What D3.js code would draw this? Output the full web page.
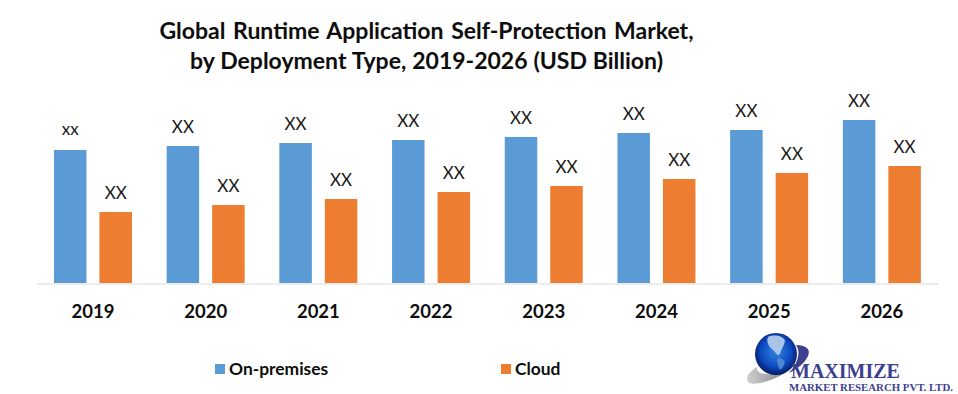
<!DOCTYPE html>
<html>
<head>
<meta charset="utf-8">
<script src="https://cdn.jsdelivr.net/npm/d3@7"></script>
<style>
  html, body { margin: 0; padding: 0; background: #fff; }
  svg { display: block; }
  text { font-family: Lato, "Open Sans", sans-serif; }
</style>
</head>
<body>
<div id="chart"></div>
<script>
const years = ['2019', '2020', '2021', '2022', '2023', '2024', '2025', '2026'];
const seriesNames = ['On-premises', 'Cloud'];
// no numbers on the chart, these are read from the bar heights
const onPremises = [13.3, 13.7, 14.0, 14.3, 14.6, 15.0, 15.3, 16.3];
const cloud = [7.1, 7.8, 8.4, 9.1, 9.7, 10.4, 11.0, 11.7];
const onPremisesLabels = ['xx', 'XX', 'XX', 'XX', 'XX', 'XX', 'XX', 'XX'];
const cloudLabels = ['XX', 'XX', 'XX', 'XX', 'XX', 'XX', 'XX', 'XX'];
const titleLines = ['Global Runtime Application Self-Protection Market,', 'by Deployment Type, 2019-2026 (USD Billion)'];
const colors = ['#5b9bd5', '#ed7d31'];

const width = 958;
const height = 394;

const svg = d3.select('#chart').append('svg')
  .attr('width', width)
  .attr('height', height);

// title
svg.selectAll('.title')
  .data(titleLines)
  .enter()
  .append('text')
  .attr('class', 'title')
  .attr('x', 426.5)
  .attr('y', (d, i) => 39 + i * 30)
  .attr('text-anchor', 'middle')
  .attr('font-size', 23)
  .attr('font-weight', 700)
  .attr('word-spacing', (d, i) => i === 0 ? 2 : 0.3)
  .attr('fill', '#0d0d0d')
  .text(d => d);

const x = d3.scaleBand()
  .domain(years)
  .range([36.6, 938.2])
  .paddingInner(0.308)
  .paddingOuter(0.154);

const xSeries = d3.scaleBand()
  .domain(seriesNames)
  .range([0, x.bandwidth()])
  .paddingInner(0.286);

const y = d3.scaleLinear()
  .domain([0, 20])
  .range([283, 83]);

const series = [
  { name: seriesNames[0], values: onPremises, labels: onPremisesLabels },
  { name: seriesNames[1], values: cloud, labels: cloudLabels }
];

// bars and their labels
series.forEach((s, k) => {
  const g = svg.append('g');

  g.selectAll('rect')
    .data(s.values)
    .enter()
    .append('rect')
    .attr('x', (d, i) => x(years[i]) + xSeries(s.name))
    .attr('y', d => y(d))
    .attr('width', xSeries.bandwidth())
    .attr('height', d => y(0) - y(d))
    .attr('fill', colors[k]);

  g.selectAll('text')
    .data(s.values)
    .enter()
    .append('text')
    .attr('x', (d, i) => x(years[i]) + xSeries(s.name) + xSeries.bandwidth() / 2)
    .attr('y', (d, i) => y(d) - (s.labels[i] === 'xx' ? 15 : 13))
    .attr('text-anchor', 'middle')
    .attr('font-size', 17)
    .attr('fill', '#1a1a1a')
    .text((d, i) => s.labels[i]);
});

// axis
const xAxis = svg.append('g')
  .attr('transform', `translate(0, ${y(0) + 0.5})`)
  .call(d3.axisBottom(x).tickSize(0).tickPadding(21));

xAxis.select('.domain').attr('stroke', '#d9d9d9').attr('stroke-width', 1);
xAxis.selectAll('text')
  .attr('font-family', 'Lato, sans-serif')
  .attr('font-size', 18.5)
  .attr('font-weight', 700)
  .attr('fill', '#0d0d0d');

// legend
const legendX = [215, 501];
const legend = svg.selectAll('.legend')
  .data(seriesNames)
  .enter()
  .append('g')
  .attr('class', 'legend')
  .attr('transform', (d, i) => `translate(${legendX[i]}, 364)`);

legend.append('rect')
  .attr('width', 10)
  .attr('height', 10)
  .attr('fill', (d, i) => colors[i]);

legend.append('text')
  .attr('x', 14)
  .attr('y', 11)
  .attr('font-size', 17.4)
  .attr('font-weight', 700)
  .attr('fill', '#0d0d0d')
  .text(d => d);

// logo
const defs = svg.append('defs');
const globeGrad = defs.append('radialGradient')
  .attr('id', 'globe')
  .attr('cx', '0.5')
  .attr('cy', '0.45')
  .attr('r', '0.6');
globeGrad.append('stop').attr('offset', '0%').attr('stop-color', '#2f86e0');
globeGrad.append('stop').attr('offset', '60%').attr('stop-color', '#0d49c0');
globeGrad.append('stop').attr('offset', '100%').attr('stop-color', '#04104a');

const swooshGrad = defs.append('linearGradient')
  .attr('id', 'swoosh')
  .attr('x1', '0').attr('x2', '1');
swooshGrad.append('stop').attr('offset', '0%').attr('stop-color', '#d0d0d0');
swooshGrad.append('stop').attr('offset', '100%').attr('stop-color', '#7a7a7a');

const logo = svg.append('g');

logo.append('path')
  .attr('d', 'M748 382 C745 377 750 371 757 367 C756 372 762 375 772 374 C780 373 787 370 792 366 C786 374 772 381 760 383 C754 384 750 384 748 382 Z')
  .attr('fill', 'url(#swoosh)');
logo.append('path')
  .attr('d', 'M796 345 C806 345 811 349 808 356 C805 363 797 369 789 373 C796 366 802 353 796 345 Z')
  .attr('fill', '#3d3f8f');

logo.append('circle')
  .attr('cx', 776)
  .attr('cy', 354)
  .attr('r', 21)
  .attr('fill', 'url(#globe)');
logo.append('path')
  .attr('d', 'M768 337 C774 334 784 336 785 341 C784 346 781 349 780 354 C777 357 776 352 773 350 C769 347 766 342 768 337 Z')
  .attr('fill', '#a9c6e8');
logo.append('path')
  .attr('d', 'M778 358 C783 358 786 361 784 365 C782 369 780 371 779 368 C778 365 776 361 778 358 Z')
  .attr('fill', '#4f86d0');

logo.append('text')
  .attr('x', 791)
  .attr('y', 378)
  .style('font-family', '"Liberation Serif", serif')
  .attr('font-size', 20)
  .attr('font-weight', 700)
  .attr('fill', '#3d3f8f')
  .text('MAXIMIZE');
logo.append('text')
  .attr('x', 789)
  .attr('y', 391)
  .style('font-family', '"Liberation Serif", serif')
  .attr('font-size', 10.8)
  .attr('font-weight', 700)
  .attr('fill', '#3d3f8f')
  .text('MARKET RESEARCH PVT. LTD.');
</script>
</body>
</html>
